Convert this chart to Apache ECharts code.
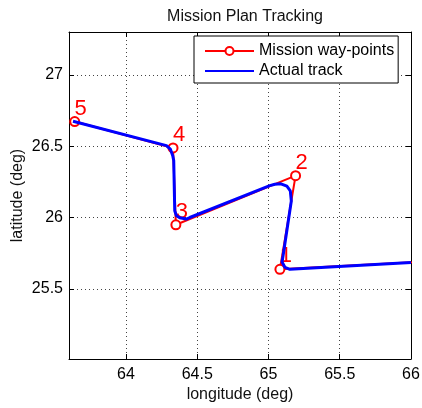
<!DOCTYPE html>
<html>
<head>
<meta charset="utf-8">
<script src="https://cdn.jsdelivr.net/npm/echarts@6/dist/echarts.min.js"></script>
<style>html,body{margin:0;padding:0;background:#fff}#c{width:422px;height:408px}</style>
</head>
<body>
<div id="c"></div>
<script>
// Mission way-points (first point lies beyond the right edge of the plot)
const wpLon = [66.6, 65.08, 65.19, 64.35, 64.33, 63.64];
const wpLat = [25.72, 25.638, 26.294, 25.95, 26.488, 26.673];
const wpLabels = ['', '1', '2', '3', '4', '5'];

// Actual track
const trkLon = [66.0, 65.431, 65.150, 65.116, 65.095, 65.102, 65.160, 65.153, 65.129, 65.087, 65.045, 65.009, 64.448, 64.424, 64.377, 64.354, 64.342, 64.335, 64.328, 64.311, 64.284, 63.628];
const trkLat = [25.685, 25.655, 25.638, 25.651, 25.690, 25.732, 26.117, 26.188, 26.220, 26.237, 26.234, 26.224, 26.001, 25.990, 25.999, 26.013, 26.048, 26.399, 26.434, 26.480, 26.504, 26.675];

const xMin = 63.6, xMax = 66.0, yMin = 25.01, yMax = 27.3;

const FONT = 'Liberation Sans';
const FS = 16;
const halfFmt = v => (Math.abs(v * 2 - Math.round(v * 2)) < 1e-6 ? String(+v.toFixed(1)) : '');

const wpData = wpLon.map((x, i) => ({
  value: [x, wpLat[i]],
  label: { show: wpLabels[i] !== '', formatter: wpLabels[i] }
}));
const trkData = trkLon.map((x, i) => [x, trkLat[i]]);

const gridLine = { show: true, lineStyle: { color: '#444', type: [1, 3], width: 1 } };
const axLine = { show: true, onZero: false, lineStyle: { color: '#000', width: 1 } };
const ticks = { show: true, inside: true, length: 5, lineStyle: { color: '#000' } };

const chart = echarts.init(document.getElementById('c'), null, { renderer: 'canvas' });
chart.setOption({
  backgroundColor: '#fff',
  animation: false,
  title: {
    text: 'Mission Plan Tracking', left: 240, top: 4, textAlign: 'center',
    textStyle: { fontFamily: FONT, fontSize: FS, fontWeight: 'normal', color: '#111' }
  },
  legend: {
    orient: 'vertical', left: 194, top: 36,
    padding: [6, 4, 3, 10], itemGap: 2, itemWidth: 49, itemHeight: 10,
    borderColor: '#000', borderWidth: 1, backgroundColor: '#fff',
    textStyle: { fontFamily: FONT, fontSize: FS, color: '#000', lineHeight: 18 },
    data: [
      { name: 'Mission way-points' },
      { name: 'Actual track', itemStyle: { opacity: 0 } }
    ]
  },
  grid: { left: 69, right: 11, top: 32, bottom: 49, containLabel: false, outerBoundsMode: 'none' },
  xAxis: [{
    type: 'value', min: xMin, max: xMax, splitNumber: 5,
    name: 'longitude (deg)', nameLocation: 'middle', nameGap: 28, nameMoveOverlap: false,
    nameTextStyle: { fontFamily: FONT, fontSize: FS, color: '#111' },
    axisLine: axLine, axisTick: ticks, splitLine: gridLine,
    axisLabel: { fontFamily: FONT, fontSize: FS, color: '#000', margin: 8, showMinLabel: false, formatter: halfFmt }
  }, {
    type: 'value', position: 'top', min: xMin, max: xMax, splitNumber: 5,
    axisLine: axLine, axisTick: ticks, splitLine: { show: false }, axisLabel: { show: false }
  }],
  yAxis: [{
    type: 'value', min: yMin, max: yMax, splitNumber: 5,
    name: 'latitude (deg)', nameLocation: 'middle', nameGap: 43, nameMoveOverlap: false,
    nameTextStyle: { fontFamily: FONT, fontSize: FS, color: '#111' },
    axisLine: axLine, axisTick: ticks, splitLine: gridLine,
    axisLabel: { fontFamily: FONT, fontSize: FS, color: '#000', margin: 6, showMinLabel: false, showMaxLabel: false, formatter: halfFmt }
  }, {
    type: 'value', position: 'right', min: yMin, max: yMax, splitNumber: 5,
    axisLine: axLine, axisTick: ticks, splitLine: { show: false }, axisLabel: { show: false }
  }],
  series: [{
    name: 'Mission way-points', type: 'line', data: wpData, z: 2,
    symbol: 'emptyCircle', symbolSize: 9, showAllSymbol: true,
    lineStyle: { color: '#ff0000', width: 2 },
    itemStyle: { color: '#ff0000', borderColor: '#ff0000', borderWidth: 2 },
    label: { position: 'inside', offset: [6, -13], fontFamily: FONT, fontSize: 22, color: '#ff0000' },
    clip: true
  }, {
    name: 'Actual track', type: 'line', data: trkData, z: 3,
    symbol: 'none', showSymbol: false,
    lineStyle: { color: '#0000ff', width: 3 },
    itemStyle: { color: '#0000ff' },
    clip: true
  }]
});
</script>
</body>
</html>
